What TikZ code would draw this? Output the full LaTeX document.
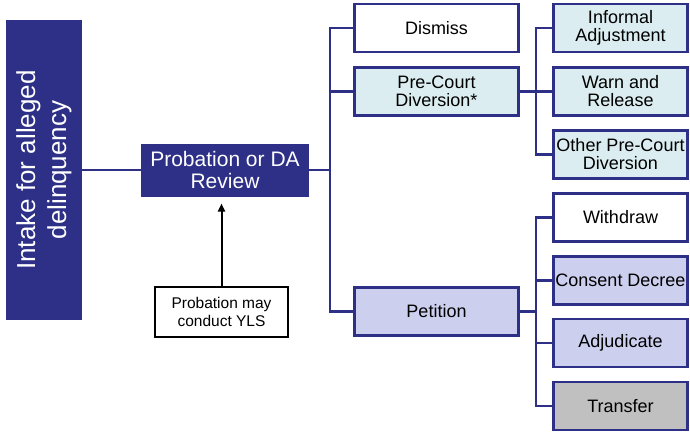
\documentclass[tikz,border=0pt]{standalone}
\usepackage{fontspec}
\setmainfont{Liberation Sans}
\usetikzlibrary{arrows.meta,positioning}
\definecolor{navy}{RGB}{46,48,135}
\definecolor{divteal}{RGB}{219,237,240}
\definecolor{petlav}{RGB}{205,207,238}
\definecolor{xfergray}{RGB}{192,192,192}
\tikzset{
  stage/.style={
    rectangle, draw=navy, fill=navy, text=white,
    line width=1pt, align=center, inner sep=2pt
  },
  % Stili per gli esiti
  outcome/.style={
    rectangle, draw=navy, fill=white, line width=2.5pt,
    minimum width=164pt, minimum height=48pt,
    align=center, inner sep=1pt,
    font=\fontsize{18}{18}\selectfont
  },
  option/.style={outcome, minimum width=134pt},
  note/.style={
    rectangle, draw=black, fill=white, line width=2pt,
    minimum width=133pt, minimum height=50pt,
    align=center, inner sep=1pt,
    font=\fontsize{15.5}{18}\selectfont
  },
  link/.style={draw=navy, line width=2.5pt},
  arrow/.style={-{Triangle[length=8pt,width=7pt]}, line width=2pt, shorten >=7pt}
}

\begin{document}
\begin{tikzpicture}[x=1pt, y=-1pt]
\useasboundingbox (0,0) rectangle (690,434);

% Ingresso e revisione
\node[stage, rotate=90, minimum width=299pt, minimum height=75pt,
  font=\fontsize{26}{31}\selectfont] (intake) at (44,170)
  {Intake for alleged\\delinquency};
\node[stage, minimum width=167pt, minimum height=52pt,
  font=\fontsize{21}{22}\selectfont] (probation) at (225,170)
  {Probation or DA\\Review};
\node[note] (yls) at (221.5,312) {Probation may\\conduct YLS};

% Primo livello di esiti
\node[outcome] (dismiss) at (436.5,28) {Dismiss};
\node[outcome, fill=divteal] (precourt) at (436.5,91.5) {Pre-Court\\Diversion*};
\node[outcome, fill=petlav] (petition) at (436.5,311.5) {Petition};

% Esiti della diversione
\node[option, fill=divteal] (informal) at (620.5,28) {Informal\\Adjustment};
\node[option, fill=divteal] (warn) at (620.5,91.5) {Warn and\\Release};
\node[option, fill=divteal] (otherdiv) at (620.5,154.5) {Other Pre-Court\\Diversion};

% Esiti della petizione
\node[option] (withdraw) at (620.5,217.5) {Withdraw};
\node[option, fill=petlav] (consent) at (620.5,280.5) {Consent Decree};
\node[option, fill=petlav] (adjudicate) at (620.5,343) {Adjudicate};
\node[option, fill=xfergray] (transfer) at (620.5,406) {Transfer};

% Punti di diramazione
\coordinate (trunkA) at (330,170);
\coordinate (trunkB) at (536,91.5);
\coordinate (trunkC) at (536,311.5);

% Collegamenti
\draw[link] (intake) -- (probation);
\draw[arrow] (yls.north) -- (yls.north |- probation.south);

\draw[link] (probation.east) -- (trunkA);
\foreach \n in {dismiss,precourt,petition}
  \draw[link] (\n.west) -| (trunkA);

\draw[link] (precourt.east) -- (trunkB);
\foreach \n in {informal,warn,otherdiv}
  \draw[link] (\n.west) -| (trunkB);

\draw[link] (petition.east) -- (trunkC);
\foreach \n in {withdraw,consent,adjudicate,transfer}
  \draw[link] (\n.west) -| (trunkC);

\end{tikzpicture}
\end{document}
